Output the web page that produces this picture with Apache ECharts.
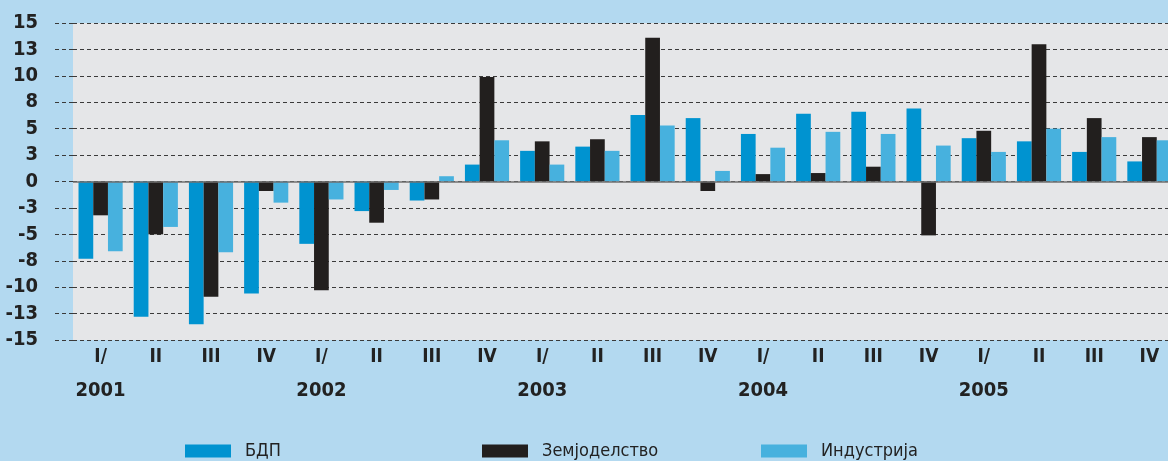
<!DOCTYPE html>
<html>
<head>
<meta charset="utf-8">
<script src="https://cdn.jsdelivr.net/npm/echarts@6/dist/echarts.min.js"></script>
<style>
html,body{margin:0;padding:0;background:#b3d9f0;overflow:hidden;width:1168px;height:461px;}
#chart{width:1177px;height:461px;}
</style>
</head>
<body>
<div id="chart"></div>
<script>
const quarters = ['I/','II','III','IV','I/','II','III','IV','I/','II','III','IV','I/','II','III','IV','I/','II','III','IV'];
const years = ['2001','','','','2002','','','','2003','','','','2004','','','','2005','','',''];
const seriesNames = ['БДП','Земјоделство','Индустрија'];
const bdp = [-7.3,-12.8,-13.5,-10.6,-5.9,-2.8,-1.8,1.6,2.9,3.3,6.3,6.0,4.5,6.4,6.6,6.9,4.1,3.8,2.8,1.9];
const zemjodelstvo = [-3.2,-5.0,-10.9,-0.9,-10.3,-3.9,-1.7,9.9,3.8,4.0,13.6,-0.9,0.7,0.8,1.4,-5.1,4.8,13.0,6.0,4.2];
const industrija = [-6.6,-4.3,-6.7,-2.0,-1.7,-0.8,0.5,3.9,1.6,2.9,5.3,1.0,3.2,4.7,4.5,3.4,2.8,5.0,4.2,3.9];
const yMin = -15, yMax = 15, yStep = 2.5;
const yTickLabels = ['-15','-13','-10','-8','-5','-3','0','3','5','8','10','13','15'];

const font = "'Liberation Sans Narrow','Arial Narrow','DejaVu Sans Condensed',sans-serif";
const colors = ['#0093d0','#221f1e','#47b1de'];
const dataArr = [bdp, zemjodelstvo, industrija];

const chart = echarts.init(document.getElementById('chart'), null, {renderer:'canvas'});
const legendPos = [180, 477, 756];
chart.setOption({
  backgroundColor: '#b3d9f0',
  animation: false,
  grid: {left: 73, right: 0, top: 23, bottom: 121, show: true, backgroundColor: '#e5e6e8', borderWidth: 0},
  legend: seriesNames.map((n, i) => ({
    data: [n], left: legendPos[i], top: 437, icon: 'rect', itemWidth: 46, itemHeight: 13,
    selectedMode: false,
    textStyle: {fontFamily: font, fontSize: 18, color: '#222', padding: [0,0,0,9]}
  })),
  xAxis: {
    type: 'category', data: quarters,
    axisLine: {show: false}, axisTick: {show: false},
    axisLabel: {
      interval: 0, margin: 1,
      formatter: (v, i) => '{q|' + quarters[i] + '}\n{y|' + (years[i] || ' ') + '}',
      rich: {
        q: {fontFamily: font, fontSize: 19, fontWeight: 'bold', color: '#222', lineHeight: 33},
        y: {fontFamily: font, fontSize: 20, fontWeight: 'bold', color: '#222', lineHeight: 33}
      }
    }
  },
  yAxis: {
    type: 'value', min: yMin, max: yMax, interval: yStep,
    axisLine: {show: false},
    axisTick: {show: true, length: 19, lineStyle: {color: '#3a3a3a', type: [4,3], width: 1}},
    splitLine: {show: true, lineStyle: {color: '#3a3a3a', type: [4,3], width: 1}},
    axisLabel: {
      margin: 35, fontFamily: font, fontSize: 20, fontWeight: 'bold', color: '#222',
      formatter: v => yTickLabels[Math.round((v - yMin) / yStep)]
    }
  },
  series: seriesNames.map((n, i) => ({
    name: n, type: 'bar', data: dataArr[i], barGap: '0%', barCategoryGap: '20%',
    itemStyle: {color: colors[i]},
    markLine: i === 0 ? {
      silent: true, symbol: ['none','none'], label: {show: false},
      lineStyle: {color: '#707070', type: 'solid', width: 1.5},
      data: [{yAxis: 0}]
    } : undefined
  }))
});
</script>
</body>
</html>
